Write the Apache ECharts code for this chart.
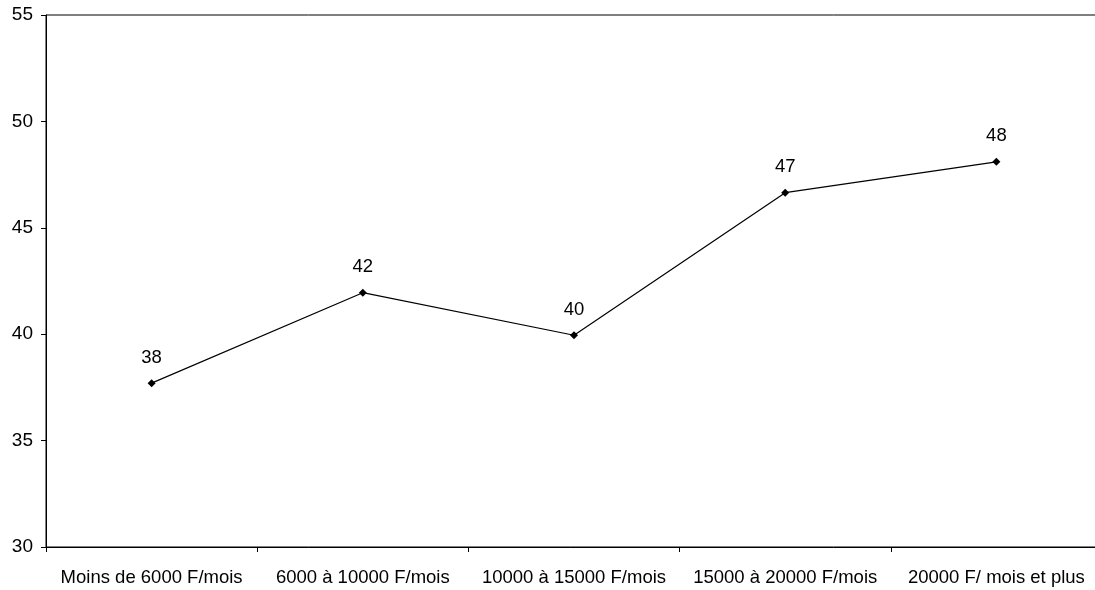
<!DOCTYPE html>
<html>
<head>
<meta charset="utf-8">
<script src="https://cdn.jsdelivr.net/npm/echarts@6/dist/echarts.min.js"></script>
<style>html,body{margin:0;padding:0;background:#fff}#c{width:1095px;height:590px}</style>
</head>
<body>
<div id="c"></div>
<script>
var categories = ['Moins de 6000 F/mois', '6000 à 10000 F/mois', '10000 à 15000 F/mois', '15000 à 20000 F/mois', '20000 F/ mois et plus'];
var values = [37.7, 41.95, 39.95, 46.65, 48.1];

var chart = echarts.init(document.getElementById('c'), null, {renderer: 'canvas'});
var font = 'Liberation Sans, Arial, sans-serif';
chart.setOption({
  animation: false,
  backgroundColor: '#fff',
  grid: {left: 46, top: 15, width: 1056, height: 532, show: true, borderColor: '#000', borderWidth: 1,
    containLabel: false, outerBoundsMode: 'none'},
  xAxis: {
    type: 'category', data: categories, boundaryGap: true,
    axisLine: {lineStyle: {color: '#000', width: 1}},
    axisTick: {show: true, length: 5, lineStyle: {color: '#000'}},
    axisLabel: {color: '#000', fontSize: 18.5, fontFamily: font, margin: 21, interval: 0}
  },
  yAxis: {
    type: 'value', min: 30, max: 55, interval: 5,
    axisLine: {show: true, lineStyle: {color: '#000', width: 1}},
    axisTick: {show: true, length: 5, lineStyle: {color: '#000'}},
    splitLine: {show: false},
    axisLabel: {color: '#000', fontSize: 19, fontFamily: font, margin: 13}
  },
  series: [{
    type: 'line', data: values,
    symbol: 'diamond', symbolSize: 8,
    itemStyle: {color: '#000'},
    lineStyle: {color: '#000', width: 1.2},
    label: {show: true, position: 'top', distance: 12, color: '#000', fontSize: 18.5, fontFamily: font,
      formatter: function (p) { return Math.round(p.value); }}
  }]
});
</script>
</body>
</html>
